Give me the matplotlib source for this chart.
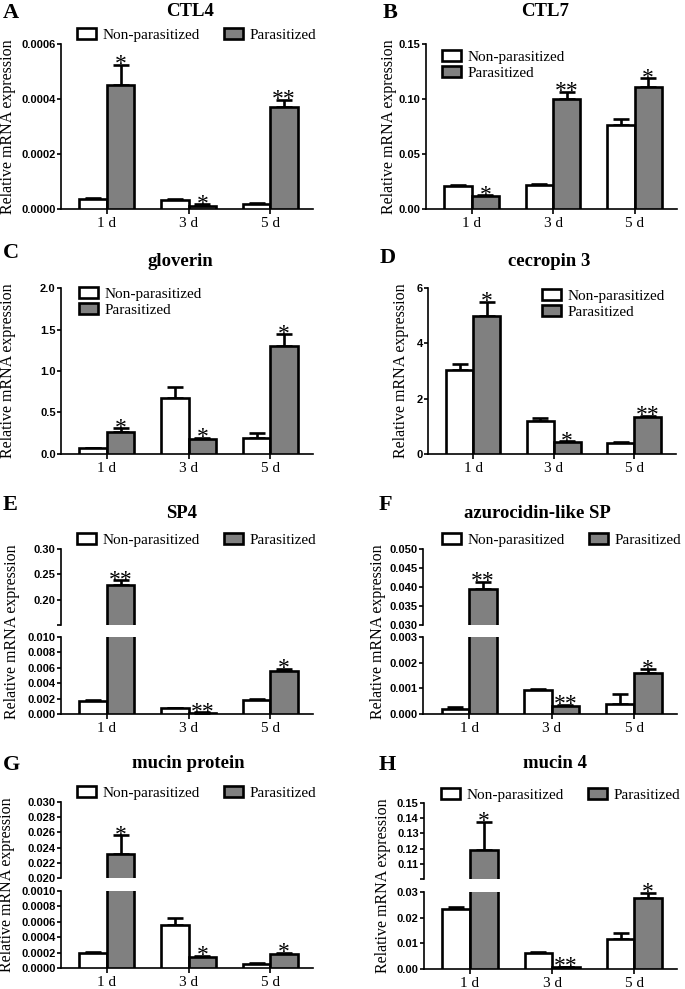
import numpy as np
import matplotlib
matplotlib.use("Agg")
import matplotlib.pyplot as plt
import matplotlib.patches as mpatches

# ---- data ----
days = ["1 d", "3 d", "5 d"]
series_names = ["Non-parasitized", "Parasitized"]

ctl4_non = [0.000037, 0.000034, 0.000019]
ctl4_non_err = [0.000004, 0.000003, 0.000002]
ctl4_par = [0.00045, 0.000012, 0.000372]
ctl4_par_err = [0.000075, 0.000005, 0.000026]
ctl4_sig = ["*", "*", "**"]

ctl7_non = [0.0212, 0.0218, 0.0763]
ctl7_non_err = [0.001, 0.001, 0.0052]
ctl7_par = [0.0115, 0.100, 0.1112]
ctl7_par_err = [0.0012, 0.0068, 0.0078]
ctl7_sig = ["*", "**", "*"]

glov_non = [0.072, 0.67, 0.19]
glov_non_err = [0.004, 0.14, 0.065]
glov_par = [0.268, 0.18, 1.30]
glov_par_err = [0.04, 0.017, 0.14]
glov_sig = ["*", "*", "*"]

cec_non = [3.03, 1.20, 0.38]
cec_non_err = [0.22, 0.10, 0.04]
cec_par = [4.98, 0.43, 1.34]
cec_par_err = [0.52, 0.03, 0.04]
cec_sig = ["*", "*", "**"]

sp4_non = [0.0017, 0.00078, 0.00182]
sp4_non_err = [0.00018, 0.00004, 0.00016]
sp4_par = [0.228, 0.00018, 0.0056]
sp4_par_err = [0.010, 0.00005, 0.0003]
sp4_sig = ["**", "**", "*"]

azu_non = [0.0002, 0.00094, 0.0004]
azu_non_err = [0.00006, 0.00003, 0.00036]
azu_par = [0.0395, 0.00033, 0.00161]
azu_par_err = [0.0019, 0.00004, 0.00013]
azu_sig = ["**", "**", "*"]

muc_non = [0.0002, 0.000556, 0.00005]
muc_non_err = [0.00001, 0.00009, 0.00001]
muc_par = [0.0232, 0.00014, 0.00018]
muc_par_err = [0.0024, 0.00002, 0.00002]
muc_sig = ["*", "*", "*"]

muc4_non = [0.0232, 0.0064, 0.0117]
muc4_non_err = [0.001, 0.0004, 0.0022]
muc4_par = [0.119, 0.0006, 0.0277]
muc4_par_err = [0.0186, 0.0003, 0.002]
muc4_sig = ["*", "**", "*"]

# ---- style ----
W, H = 685, 989
GRAY = "#808080"
SERIF = "Liberation Serif"
SANS = "Liberation Sans"
BW = 0.335
LW = 1.9
XLIM = (-0.56, 2.52)

fig = plt.figure(figsize=(W / 100, H / 100), dpi=100)


def px_axes(l, t, r, b):
    return fig.add_axes([l / W, 1 - b / H, (r - l) / W, (b - t) / H])


def style_axis(ax, ticks, fmt, bottom=True, blank_first=False):
    for s in ["top", "right"]:
        ax.spines[s].set_visible(False)
    ax.spines["left"].set_linewidth(1.2)
    ax.spines["bottom"].set_linewidth(1.2)
    ax.set_xlim(*XLIM)
    ax.set_yticks(ticks)
    labels = [fmt.format(t) for t in ticks]
    if blank_first:
        labels[0] = ""
    ax.set_yticklabels(labels, fontfamily=SANS, fontweight="bold", fontsize=8)
    ax.tick_params(axis="y", length=3, width=1.2, pad=0.8)
    if bottom:
        ax.set_xticks(np.arange(3))
        ax.set_xticklabels(days, fontfamily=SERIF, fontsize=11)
        ax.tick_params(axis="x", length=3.5, width=1.2, pad=2)
    else:
        ax.spines["bottom"].set_visible(False)
        ax.set_xticks([])


def draw_bars(ax, non, non_err, par, par_err):
    x = np.arange(3)
    ax.bar(x - BW / 2, non, BW, color="white", edgecolor="black", linewidth=LW, zorder=3)
    ax.bar(x + BW / 2, par, BW, color=GRAY, edgecolor="black", linewidth=LW, zorder=3)
    ax.errorbar(x - BW / 2, non, yerr=[np.zeros(3), non_err], fmt="none", ecolor="black",
                elinewidth=LW, capsize=6, capthick=LW, zorder=2)
    ax.errorbar(x + BW / 2, par, yerr=[np.zeros(3), par_err], fmt="none", ecolor="black",
                elinewidth=LW, capsize=6, capthick=LW, zorder=2)


def draw_sig(axes, par, par_err, sig):
    for i in range(3):
        top = par[i] + par_err[i]
        for ax in axes:
            lo, hi = ax.get_ylim()
            if lo <= top <= hi or (ax is axes[-1] and top < lo):
                ax.annotate(sig[i], (i + BW / 2, top), xytext=(0, -4), textcoords="offset points",
                            ha="center", va="baseline", fontfamily=SERIF, fontsize=17,
                            annotation_clip=False)
                break


def add_legend(x, y, ncol):
    handles = [mpatches.Patch(facecolor="white", edgecolor="black", linewidth=LW),
               mpatches.Patch(facecolor=GRAY, edgecolor="black", linewidth=LW)]
    fig.legend(handles=handles, labels=series_names, loc="center left",
               bbox_to_anchor=(x / W, 1 - y / H), ncol=ncol, frameon=False,
               prop={"family": SERIF, "size": 11}, borderpad=0, handlelength=1.25,
               handleheight=0.7, handletextpad=0.45, columnspacing=1.55, labelspacing=0.12,
               borderaxespad=0)


def labels(letter, lx, ly, title, tx, ty, ylx, yl_top, yl_bot):
    fig.text(lx / W, 1 - ly / H, letter, fontfamily=SERIF, fontweight="bold", fontsize=16,
             ha="left", va="center")
    fig.text(tx / W, 1 - ty / H, title, fontfamily=SERIF, fontweight="bold", fontsize=13.5,
             ha="center", va="center")
    fig.text(ylx / W, 1 - (yl_top + yl_bot) / 2 / H, "Relative mRNA expression", fontfamily=SERIF,
             fontsize=11.5, rotation=90, ha="center", va="center")


def simple_panel(box, ylim, ticks, fmt, data):
    ax = px_axes(*box)
    non, non_err, par, par_err, sig = data
    draw_bars(ax, non, non_err, par, par_err)
    ax.set_ylim(*ylim)
    style_axis(ax, ticks, fmt)
    draw_sig([ax], par, par_err, sig)
    return ax


def broken_panel(box_up, box_lo, ylim_up, ticks_up, fmt_up, blank, ylim_lo, ticks_lo, fmt_lo, data):
    ax_u = px_axes(*box_up)
    ax_l = px_axes(*box_lo)
    non, non_err, par, par_err, sig = data
    for ax in (ax_u, ax_l):
        draw_bars(ax, non, non_err, par, par_err)
    ax_u.set_ylim(*ylim_up)
    ax_l.set_ylim(*ylim_lo)
    style_axis(ax_u, ticks_up, fmt_up, bottom=False, blank_first=blank)
    style_axis(ax_l, ticks_lo, fmt_lo)
    draw_sig([ax_u, ax_l], par, par_err, sig)


# A  CTL4
simple_panel((61, 44, 313, 209), (0, 0.0006), [0, 0.0002, 0.0004, 0.0006], "{:.4f}",
             (ctl4_non, ctl4_non_err, ctl4_par, ctl4_par_err, ctl4_sig))
labels("A", 3, 13, "CTL4", 190, 12, 8, 44, 209)
add_legend(77, 35, 2)

# B  CTL7
simple_panel((426, 44, 677, 209), (0, 0.15), [0, 0.05, 0.10, 0.15], "{:.2f}",
             (ctl7_non, ctl7_non_err, ctl7_par, ctl7_par_err, ctl7_sig))
labels("B", 383, 13, "CTL7", 545, 12, 389, 44, 209)
add_legend(442, 65, 1)

# C  gloverin
simple_panel((61, 288, 313, 454), (0, 2.0), [0, 0.5, 1.0, 1.5, 2.0], "{:.1f}",
             (glov_non, glov_non_err, glov_par, glov_par_err, glov_sig))
labels("C", 3, 253, "gloverin", 180, 262, 8, 288, 454)
add_legend(79, 302, 1)

# D  cecropin 3
simple_panel((428, 288, 676, 454), (0, 6), [0, 2, 4, 6], "{:.0f}",
             (cec_non, cec_non_err, cec_par, cec_par_err, cec_sig))
labels("D", 380, 258, "cecropin 3", 549, 262, 401, 288, 454)
add_legend(542, 304, 1)

# E  SP4
broken_panel((61, 549, 313, 625), (61, 637, 313, 714), (0.15, 0.30), [0.15, 0.20, 0.25, 0.30], "{:.2f}",
             True, (0, 0.010), [0, 0.002, 0.004, 0.006, 0.008, 0.010], "{:.3f}",
             (sp4_non, sp4_non_err, sp4_par, sp4_par_err, sp4_sig))
labels("E", 3, 505, "SP4", 182, 513, 12, 549, 714)
add_legend(77, 540, 2)

# F  azurocidin-like SP
broken_panel((423, 549, 677, 625), (423, 637, 677, 714), (0.030, 0.050),
             [0.030, 0.035, 0.040, 0.045, 0.050], "{:.3f}", False,
             (0, 0.003), [0, 0.001, 0.002, 0.003], "{:.3f}",
             (azu_non, azu_non_err, azu_par, azu_par_err, azu_sig))
labels("F", 379, 505, "azurocidin-like SP", 537, 513, 378, 549, 714)
add_legend(442, 540, 2)

# G  mucin protein
broken_panel((61, 802, 313, 878), (61, 891, 313, 968), (0.020, 0.030),
             [0.020, 0.022, 0.024, 0.026, 0.028, 0.030], "{:.3f}", False,
             (0, 0.0010), [0, 0.0002, 0.0004, 0.0006, 0.0008, 0.0010], "{:.4f}",
             (muc_non, muc_non_err, muc_par, muc_par_err, muc_sig))
labels("G", 3, 765, "mucin protein", 188, 764, 7, 802, 968)
add_legend(77, 793, 2)

# H  mucin 4
broken_panel((424, 803, 677, 879), (424, 892, 677, 969), (0.10, 0.15),
             [0.10, 0.11, 0.12, 0.13, 0.14, 0.15], "{:.2f}", True,
             (0, 0.03), [0, 0.01, 0.02, 0.03], "{:.2f}",
             (muc4_non, muc4_non_err, muc4_par, muc4_par_err, muc4_sig))
labels("H", 379, 765, "mucin 4", 555, 764, 383, 803, 969)
add_legend(441, 795, 2)

fig.savefig("out.png", dpi=100)
